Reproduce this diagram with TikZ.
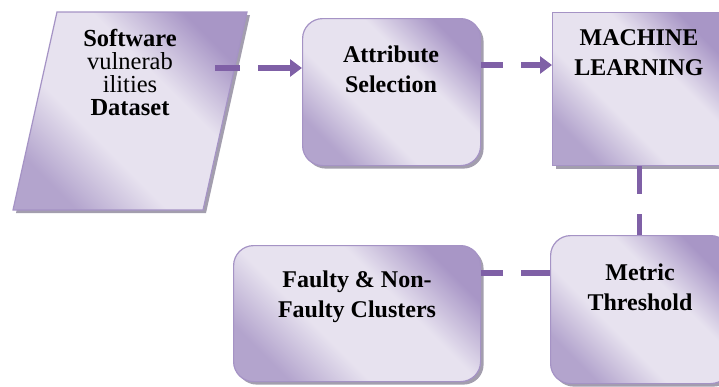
\documentclass[tikz,border=0pt]{standalone}
\usepackage{fontspec}
\setmainfont{Liberation Serif}
\usetikzlibrary{shadows,arrows.meta}
\definecolor{lavdark}{HTML}{A896C6}
\definecolor{lavmid}{HTML}{B3A4CD}
\definecolor{lavlight}{HTML}{E7E2EF}
\definecolor{lavedge}{HTML}{A593C5}
\definecolor{shadowc}{HTML}{A39EAE}
\definecolor{connc}{HTML}{7F60A6}
\pgfdeclarehorizontalshading{lav}{100bp}{color(0bp)=(lavmid); color(25bp)=(lavmid); color(40bp)=(lavlight); color(60bp)=(lavlight); color(75bp)=(lavdark); color(100bp)=(lavdark)}
\tikzset{
  box/.style={draw=lavedge, line width=1.2pt, shade, shading=lav, shading angle=45,
    drop shadow={shadow xshift=3pt, shadow yshift=-3pt, fill=shadowc, opacity=1},
    inner sep=0pt},
  rbox/.style={box, rounded corners=20pt},
  lbl/.style={inner sep=0pt, align=center, text=black, font=\fontsize{24}{30}\selectfont},
  conn/.style={draw=connc, line width=5.5pt},
  tip/.style={-{Triangle[length=12pt,width=17pt]}}
}
\begin{document}
\begin{tikzpicture}[x=1pt,y=-1pt]
\useasboundingbox (0,0) rectangle (719,386);
% boxes
\path[box] (57,12) -- (247,12) -- (203,210) -- (13,210) -- cycle;
\node[lbl, anchor=north, font=\fontsize{24.5}{23}\selectfont] (dstxt) at (130,29)
  {\textbf{Software}\\vulnerab\\ilities\\\textbf{Dataset}};
\coordinate (dsout) at (215,68);
\node[rbox, minimum width=178pt, minimum height=147pt, anchor=north west] (attr) at (302,18) {};
\node[lbl, anchor=north] (attrtxt) at (391,46) {\textbf{Attribute}\\\textbf{Selection}};
\node[box, minimum width=174pt, minimum height=153pt, anchor=north west] (ml) at (552,12) {};
\node[lbl, anchor=north] (mltxt) at (639,29) {\textbf{MACHINE}\\\textbf{LEARNING}};
\node[rbox, minimum width=180pt, minimum height=148pt, anchor=north west] (metric) at (550,235) {};
\node[lbl, anchor=north] (metrictxt) at (640,264) {\textbf{Metric}\\\textbf{Threshold}};
\node[rbox, minimum width=247pt, minimum height=136pt, anchor=north west] (faulty) at (233,245) {};
\node[lbl, anchor=north] (faultytxt) at (357,271) {\textbf{Faulty \& Non-}\\\textbf{Faulty Clusters}};
% connectors
\draw[conn, tip, dash pattern=on 25pt off 18pt on 80pt] (dsout) -- ([yshift=-50pt]attr.north west);
\draw[conn, tip, dash pattern=on 22pt off 18pt on 80pt] ([yshift=-47pt]attr.north east) -- ([yshift=-53pt]ml.north west);
\draw[conn, dash pattern=on 28pt off 20pt on 80pt] (ml.south) -- (ml.south |- metric.north);
\coordinate (mtin) at ([yshift=-38pt]metric.north west);
\draw[conn, dash pattern=on 29pt off 18pt on 80pt] (mtin) -- (mtin -| faulty.east);
\end{tikzpicture}
\end{document}
